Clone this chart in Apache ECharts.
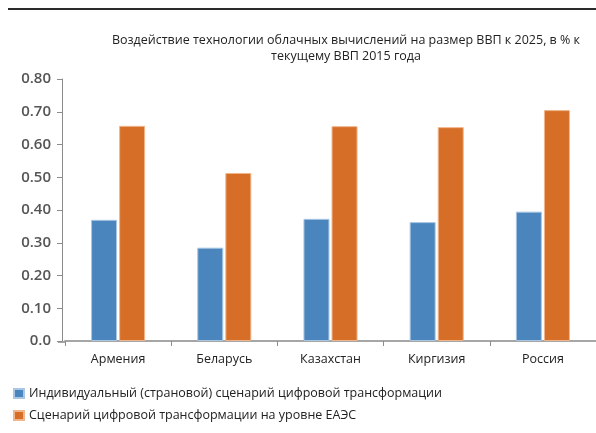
<!DOCTYPE html>
<html><head><meta charset="utf-8">
<script src="https://cdn.jsdelivr.net/npm/echarts@6/dist/echarts.min.js"></script>
<style>html,body{margin:0;padding:0;background:#fff}#c{width:596px;height:433px}</style>
</head><body><div id="c"></div>
<script>
const categories = ['Армения', 'Беларусь', 'Казахстан', 'Киргизия', 'Россия'];
const seriesNames = ['Индивидуальный (страновой) сценарий цифровой трансформации', 'Сценарий цифровой трансформации на уровне ЕАЭС'];
const individual = [0.37, 0.285, 0.373, 0.363, 0.395];
const eaes = [0.657, 0.513, 0.656, 0.653, 0.705];
const titleText = 'Воздействие технологии облачных вычислений на размер ВВП к 2025, в % к\nтекущему ВВП 2015 года';
const yMin = 0, yMax = 0.8, yStep = 0.1;

const chart = echarts.init(document.getElementById('c'));
const font = 'Open Sans';
chart.setOption({
  animation: false,
  backgroundColor: '#fff',
  title: {
    text: titleText, left: 341, top: 27, textAlign: 'center',
    textStyle: {fontFamily: font, fontSize: 12.5, fontWeight: 'normal', color: '#222', lineHeight: 16}
  },
  legend: {
    orient: 'vertical', left: 8, top: 382, itemWidth: 10, itemHeight: 9, itemGap: 9,
    icon: 'rect',
    textStyle: {fontFamily: font, fontSize: 12.5, color: '#222'},
    data: seriesNames
  },
  grid: {left: 65, right: 0, top: 79, bottom: 92, containLabel: false},
  xAxis: {
    type: 'category', data: categories,
    axisLine: {lineStyle: {color: '#a6a6a6', width: 2}},
    axisTick: {show: true, length: 5, lineStyle: {color: '#8c8c8c'}},
    axisLabel: {fontFamily: font, fontSize: 12.5, color: '#222', margin: 12}
  },
  yAxis: {
    type: 'value', min: yMin, max: yMax, interval: yStep, offset: 3,
    splitLine: {show: false},
    axisLine: {show: true, lineStyle: {color: '#8c8c8c', width: 1}},
    axisTick: {show: true, length: 5, lineStyle: {color: '#8c8c8c'}},
    axisLabel: {fontFamily: font, fontSize: 15, color: '#555', fontWeight: 600, margin: 11,
      formatter: v => v === 0 ? '0.0' : v.toFixed(2)}
  },
  graphic: [
    {type: 'line', shape: {x1: 8, y1: 9, x2: 596, y2: 9}, style: {stroke: '#2a2a2a', lineWidth: 2}},
    {type: 'line', shape: {x1: 58, y1: 342, x2: 66, y2: 342}, style: {stroke: '#a6a6a6', lineWidth: 2}}
  ],
  series: [
    {name: seriesNames[0], type: 'bar', data: individual, barWidth: 26, barGap: '8%',
     itemStyle: {color: '#4a86bd', borderColor: '#a9c6e3', borderWidth: 1}},
    {name: seriesNames[1], type: 'bar', data: eaes, barWidth: 26,
     itemStyle: {color: '#d66e27', borderColor: '#f0b58a', borderWidth: 1}}
  ]
});
</script></body></html>
